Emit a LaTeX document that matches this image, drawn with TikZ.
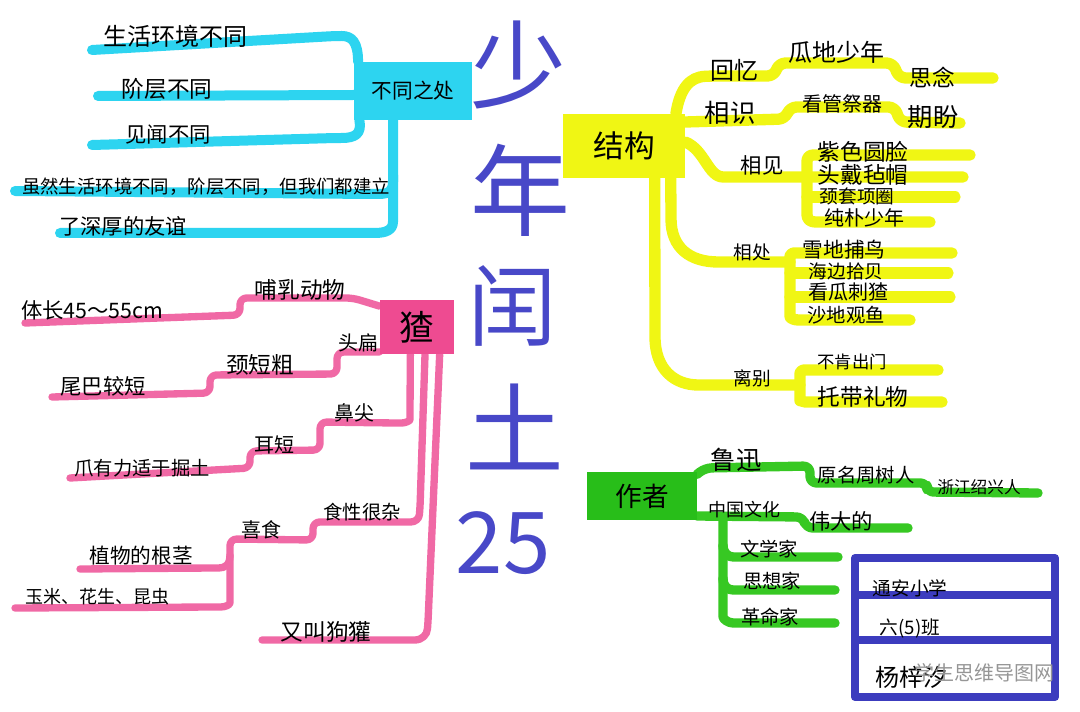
\documentclass[tikz,border=0pt]{standalone}
\usepackage{fontspec}
\setmainfont{Noto Sans CJK SC}
\usetikzlibrary{backgrounds}
\definecolor{cyanc}{RGB}{45,212,240}
\definecolor{yelc}{RGB}{240,246,20}
\definecolor{pinkc}{RGB}{240,105,165}
\definecolor{pinkbox}{RGB}{238,75,145}
\definecolor{grnc}{RGB}{55,200,35}
\definecolor{grnbox}{RGB}{40,190,25}
\definecolor{titlec}{RGB}{72,72,200}
\definecolor{boxc}{RGB}{60,60,190}
\definecolor{wmark}{RGB}{150,150,150}
\newcommand{\myfz}[1]{\fontsize{#1pt}{#1pt}\selectfont}
\tikzset{
  lbl/.style={inner sep=0pt, text=black},
  ttl/.style={inner sep=0pt, text=titlec},
  branch/.style={line cap=round, line join=round, rounded corners=5pt},
  cyl/.style={branch, draw=cyanc, line width=7.5pt},
  yel/.style={branch, draw=yelc, line width=8.5pt},
  pkl/.style={branch, draw=pinkc, line width=5.5pt},
  gnl/.style={branch, draw=grnc, line width=7pt},
  cybox/.style={fill=cyanc, inner sep=0pt},
  yebox/.style={fill=yelc, inner sep=0pt},
  pkbox/.style={fill=pinkbox, inner sep=0pt},
  gnbox/.style={fill=grnbox, inner sep=0pt},
  tablebox/.style={draw=boxc, line width=6pt, line join=round}
}
\begin{document}
\begin{tikzpicture}[x=0.75pt,y=-0.75pt]
\useasboundingbox (0,0) rectangle (1080,712);

% ---------- boxes ----------
\node[cybox, minimum width=88pt, minimum height=43.5pt, font=\myfz{15.5}] (bt) at (413,91) {不同之处};
\node[yebox, minimum width=91.5pt, minimum height=48pt, font=\myfz{23}] (yb) at (624,146) {结构};
\node[pkbox, minimum width=56pt, minimum height=41pt, font=\myfz{26}] (pb) at (417,327) {猹};
\node[gnbox, minimum width=82pt, minimum height=36pt, font=\myfz{20}] (gb) at (642,496) {作者};

% ---------- title ----------
\node[ttl, font=\myfz{72}] (ti1) at (518,65) {少};
\node[ttl, font=\myfz{75}] (ti2) at (520,190) {年};
\node[ttl, font=\myfz{66}] (ti3) at (512,306) {闰};
\node[ttl, font=\myfz{74}] (ti4) at (515,427) {土};
\node[ttl, font=\myfz{64}] (ti5) at (503,543) {25};

% ---------- cyan labels ----------
\node[lbl, font=\myfz{18}] (c1t) at (175,36) {生活环境不同};
\node[lbl, font=\myfz{17}] (c2t) at (167,89) {阶层不同};
\node[lbl, font=\myfz{16}] (c3t) at (168,135) {见闻不同};
\node[lbl, font=\myfz{13.8}] (c4t) at (206,187) {虽然生活环境不同，阶层不同，但我们都建立};
\node[lbl, font=\myfz{16}] (c5t) at (123,226) {了深厚的友谊};

% ---------- yellow labels ----------
\node[lbl, font=\myfz{18}] (y1t) at (734,70) {回忆};
\node[lbl, font=\myfz{18}] (y1u) at (836,52) {瓜地少年};
\node[lbl, font=\myfz{17}] (y1v) at (932,77) {思念};
\node[lbl, font=\myfz{19}] (y2t) at (730,113) {相识};
\node[lbl, font=\myfz{15}] (y2u) at (842,104) {看管祭器};
\node[lbl, font=\myfz{19}] (y2v) at (933,117) {期盼};
\node[lbl, font=\myfz{16}] (y3t) at (762,165) {相见};
\node[lbl, font=\myfz{17}] (y3a) at (863,152) {紫色圆脸};
\node[lbl, font=\myfz{17}] (y3b) at (863,175) {头戴毡帽};
\node[lbl, font=\myfz{14}] (y3c) at (857,196) {颈套项圈};
\node[lbl, font=\myfz{15}] (y3d) at (864,218) {纯朴少年};
\node[lbl, font=\myfz{14}] (y4t) at (752,252) {相处};
\node[lbl, font=\myfz{15.5}] (y4a) at (844,250) {雪地捕鸟};
\node[lbl, font=\myfz{14}] (y4b) at (846,271) {海边拾贝};
\node[lbl, font=\myfz{15}] (y4c) at (848,292) {看瓜刺猹};
\node[lbl, font=\myfz{14.5}] (y4d) at (846,315) {沙地观鱼};
\node[lbl, font=\myfz{14}] (y5t) at (752,378) {离别};
\node[lbl, font=\myfz{13}] (y5a) at (852,362) {不肯出门};
\node[lbl, font=\myfz{17}] (y5b) at (863,397) {托带礼物};

% ---------- pink labels ----------
\node[lbl, font=\myfz{17}] (p1t) at (300,290) {哺乳动物};
\node[lbl, font=\myfz{16}] (p1u) at (92,310) {体长45～55cm};
\node[lbl, font=\myfz{15}] (p2t) at (358,343) {头扁};
\node[lbl, font=\myfz{17}] (p2u) at (260,365) {颈短粗};
\node[lbl, font=\myfz{16}] (p2v) at (103,386) {尾巴较短};
\node[lbl, font=\myfz{15}] (p3t) at (354,413) {鼻尖};
\node[lbl, font=\myfz{15}] (p3u) at (274,445) {耳短};
\node[lbl, font=\myfz{14.5}] (p3v) at (142,468) {爪有力适于掘土};
\node[lbl, font=\myfz{14.5}] (p4t) at (362,512) {食性很杂};
\node[lbl, font=\myfz{15}] (p4u) at (261,530) {喜食};
\node[lbl, font=\myfz{15.5}] (p4v) at (141,556) {植物的根茎};
\node[lbl, font=\myfz{13.5}] (p4w) at (97,597) {玉米、花生、昆虫};
\node[lbl, font=\myfz{17}] (p5t) at (326,632) {又叫狗獾};

% ---------- green labels ----------
\node[lbl, font=\myfz{19}] (g1t) at (736,460) {鲁迅};
\node[lbl, font=\myfz{14.5}] (g1u) at (866,475) {原名周树人};
\node[lbl, font=\myfz{12.5}] (g1v) at (979,487) {浙江绍兴人};
\node[lbl, font=\myfz{13.5}] (g2t) at (744,510) {中国文化};
\node[lbl, font=\myfz{16}] (g2u) at (841,521) {伟大的};
\node[lbl, font=\myfz{14.5}] (g3a) at (769,549) {文学家};
\node[lbl, font=\myfz{14.5}] (g3b) at (772,581) {思想家};
\node[lbl, font=\myfz{14.5}] (g3c) at (770,617) {革命家};

% ---------- info box ----------
\node[lbl, font=\myfz{14}] (b1) at (910,588) {通安小学};
\node[lbl, font=\myfz{14}] (b2) at (910,628) {六(5)班};
\node[lbl, font=\myfz{18}] (b3) at (911,677) {杨梓汐};
\node[inner sep=0pt, text=wmark, font=\myfz{15}] (wm) at (984,673) {学生思维导图网};

% ---------- free ends ----------
\coordinate (ec1) at (92,50);
\coordinate (ec2) at (98,96);
\coordinate (ec3) at (92,145);
\coordinate (ec4) at (15,191);
\coordinate (ec5) at (60,233);
\coordinate (ey1) at (993,78);
\coordinate (ey2) at (960,123);
\coordinate (ey31) at (970,155);
\coordinate (ey32) at (963,177);
\coordinate (ey33) at (955,197);
\coordinate (ey34) at (930,222);
\coordinate (ey41) at (952,253);
\coordinate (ey42) at (948,273);
\coordinate (ey43) at (950,297);
\coordinate (ey44) at (910,320);
\coordinate (ey51) at (938,370);
\coordinate (ey52) at (942,402);
\coordinate (ep1) at (25,323);
\coordinate (ep2) at (52,397);
\coordinate (ep3) at (70,478);
\coordinate (ep4) at (80,569);
\coordinate (ep5) at (15,608);
\coordinate (ep6) at (262,640);
\coordinate (eg1) at (1038,493);
\coordinate (eg2) at (908,528);
\coordinate (eg3) at (838,557);
\coordinate (eg4) at (835,590);
\coordinate (eg5) at (835,623);

\begin{scope}[on background layer]
\fill[white] (0,0) rectangle (1080,712);
% cyan
\draw[cyl] ([xshift=3pt]bt.north west) .. controls (358,42) and (352,36) .. (335,36) -- (ec1);
\draw[cyl] ([yshift=-3pt]bt.west) -- (ec2);
\draw[cyl] ([xshift=4pt]bt.south west) .. controls (362,134) and (355,138) .. (335,138) -- (ec3);
\draw[cyl] ([xshift=-15pt]bt.south) -- (393,175) .. controls (393,190) and (390,194) .. (372,194) -- (ec4);
\draw[cyl] (393,175) -- (393,215) .. controls (393,230) and (386,233) .. (368,233) -- (ec5);
% yellow
\draw[yel] ([xshift=-7pt]yb.north east) .. controls (680,88) and (690,77) .. (712,76) -- (774,76) -- (779,63) -- (893,63) -- (899,78) -- (ey1);
\draw[yel] ([yshift=18pt]yb.east) -- (785,119) -- (790,107) -- (895,107) -- (900,122) -- (ey2);
\draw[yel] ([yshift=3pt]yb.east) .. controls (705,150) and (708,177) .. (730,177) -- (ey32);
\draw[yel] (ey31) -- (820,155) .. controls (809,155) and (807,158) .. (807,168) -- (807,208) .. controls (807,219) and (810,222) .. (822,222) -- (ey34);
\draw[yel] (807,197) -- (ey33);
\draw[yel] ([xshift=35pt]yb.south) -- (671,212) .. controls (671,248) and (690,262) .. (725,262) -- (790,262);
\draw[yel] (ey41) -- (800,253) .. controls (791,253) and (790,256) .. (790,263) -- (790,310) .. controls (790,318) and (794,320) .. (805,320) -- (ey44);
\draw[yel] (790,273) -- (ey42);
\draw[yel] (790,297) -- (ey43);
\draw[yel] ([xshift=23pt]yb.south) -- (655,330) .. controls (655,370) and (675,385) .. (705,385) -- (800,385);
\draw[yel] (ey51) -- (810,370) .. controls (801,370) and (800,373) .. (800,380) -- (800,394) .. controls (800,400) and (803,402) .. (812,402) -- (ey52);
% pink
\draw[pkl] ([yshift=-5pt]pb.north west) -- (353,298) -- (240,298) -- (240,315) -- (ep1);
\draw[pkl] ([yshift=2pt]pb.south west) -- (337,352) -- (337,374) -- (210,375) -- (210,393) -- (ep2);
\draw[pkl] ([xshift=-5pt]pb.south) -- (410,413) .. controls (410,421) and (405,423) .. (395,423) -- (320,422) -- (320,450) -- (250,451) -- (250,468) -- (ep3);
\draw[pkl] ([xshift=6pt]pb.south) -- (420,508) .. controls (419,519) and (415,522) .. (404,522) -- (313,522) -- (313,540) -- (230,539) -- (230,596) .. controls (230,605) and (225,607) .. (214,607) -- (ep5);
\draw[pkl] (230,555) .. controls (230,565) and (225,568) .. (212,568) -- (ep4);
\draw[pkl] ([xshift=17pt]pb.south) -- (428,622) .. controls (427,635) and (422,640) .. (408,640) -- (ep6);
% green
\draw[gnl] ([yshift=-2pt]gb.north east) -- (705,468) -- (810,466) -- (810,483) -- (927,483) -- (927,492) -- (eg1);
\draw[gnl] ([yshift=-15pt]gb.east) -- (803,517) -- (806,528) -- (eg2);
\draw[gnl] (723,517) -- (723,610) .. controls (723,619) and (728,623) .. (740,623) -- (eg5);
\draw[gnl] (723,545) .. controls (723,553) and (728,557) .. (740,557) -- (eg3);
\draw[gnl] (723,578) .. controls (723,587) and (728,590) .. (740,590) -- (eg4);
% info box
\draw[tablebox] (855,558) rectangle (1055,697);
\draw[tablebox] (855,595) -- (1055,595);
\draw[tablebox] (855,640) -- (1055,640);
\end{scope}
\end{tikzpicture}
\end{document}
